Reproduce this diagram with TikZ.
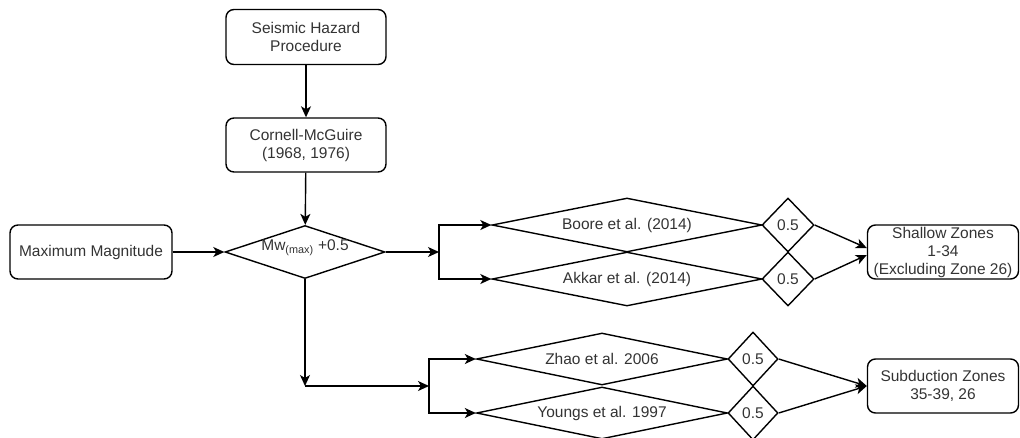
\documentclass[tikz,border=0pt]{standalone}
\usepackage{fontspec}
\setmainfont{Liberation Sans}
\usepackage{tikz}
\usetikzlibrary{arrows.meta,shapes.geometric}

\begin{document}
\begin{tikzpicture}[
        x=1pt,y=-1pt,
        every node/.style={font=\fontsize{15.5}{18}\selectfont,text=black!80},
        box/.style={rectangle,rounded corners=8pt,draw,line width=1.4pt,align=center,inner sep=2pt},
        choice/.style={diamond,draw,line width=1.4pt,inner sep=0pt,aspect=4},
        weight/.style={diamond,draw,line width=1.4pt,inner sep=0pt},
        flow/.style={-{Stealth[length=11pt,width=10pt,inset=3pt]},line width=1.4pt}
    ]
        \useasboundingbox (0,0) rectangle (1020,437);

        % Boxes
        \node[box,minimum width=160pt,minimum height=55pt] (seismic) at (306,37) {Seismic Hazard\\Procedure};
        \node[box,minimum width=160pt,minimum height=54pt] (cornell) at (306,145) {Cornell-McGuire\\(1968, 1976)};
        \node[box,minimum width=162pt,minimum height=54pt] (maxmag) at (91,252) {Maximum Magnitude};
        \node[box,minimum width=151pt,minimum height=54pt,inner sep=0pt] (shallow) at (943,252) {Shallow Zones\\1-34\\(Excluding Zone 26)};
        \node[box,minimum width=151pt,minimum height=54pt] (subduction) at (943,386) {Subduction Zones\\35-39, 26};

        % Diamonds
        \node[choice,minimum width=160pt,minimum height=53pt] (mwmax) at (305,252) {};
        \node at (305,248) {Mw\textsubscript{(max)} +0.5};
        \node[choice,minimum width=270pt,minimum height=54pt] (boore) at (627,225) {Boore et al. (2014)};
        \node[choice,minimum width=270pt,minimum height=54pt] (akkar) at (627,279) {Akkar et al. (2014)};
        \node[choice,minimum width=251pt,minimum height=52pt] (zhao) at (602,359) {Zhao et al. 2006};
        \node[choice,minimum width=251pt,minimum height=52pt] (youngs) at (602,413) {Youngs et al. 1997};

        % Weights
        \node[weight,minimum width=52pt,minimum height=54pt] (wboore) at (788,225) {0.5};
        \node[weight,minimum width=52pt,minimum height=54pt] (wakkar) at (788,279) {0.5};
        \node[weight,minimum width=50pt,minimum height=54pt] (wzhao) at (753,359) {0.5};
        \node[weight,minimum width=50pt,minimum height=54pt] (wyoungs) at (753,413) {0.5};

        % Joints
        \coordinate (split1) at (439,252);
        \coordinate (corner) at (305,386);
        \coordinate (split2) at (429,386);

        % Main flow
        \draw[flow] (seismic) -- (cornell);
        \draw[flow] (cornell) -- (mwmax);
        \draw[flow] (maxmag) -- (mwmax);
        \draw[flow] (mwmax.east) -- (split1);
        \draw[flow] (split1) |- (boore.west);
        \draw[flow] (split1) |- (akkar.west);
        \draw[flow] (mwmax.south) -- (corner);
        \draw[flow] (corner) -- (split2);
        \draw[flow] (split2) |- (zhao.west);
        \draw[flow] (split2) |- (youngs.west);

        % Weights to zones
        \draw[flow] (wboore.east) -- ([yshift=4pt]shallow.west);
        \draw[flow] (wakkar.east) -- ([yshift=-3pt]shallow.west);
        \draw[flow] (wzhao.east) -- (subduction.west);
        \draw[flow] (wyoungs.east) -- (subduction.west);
    \end{tikzpicture}
\end{document}
